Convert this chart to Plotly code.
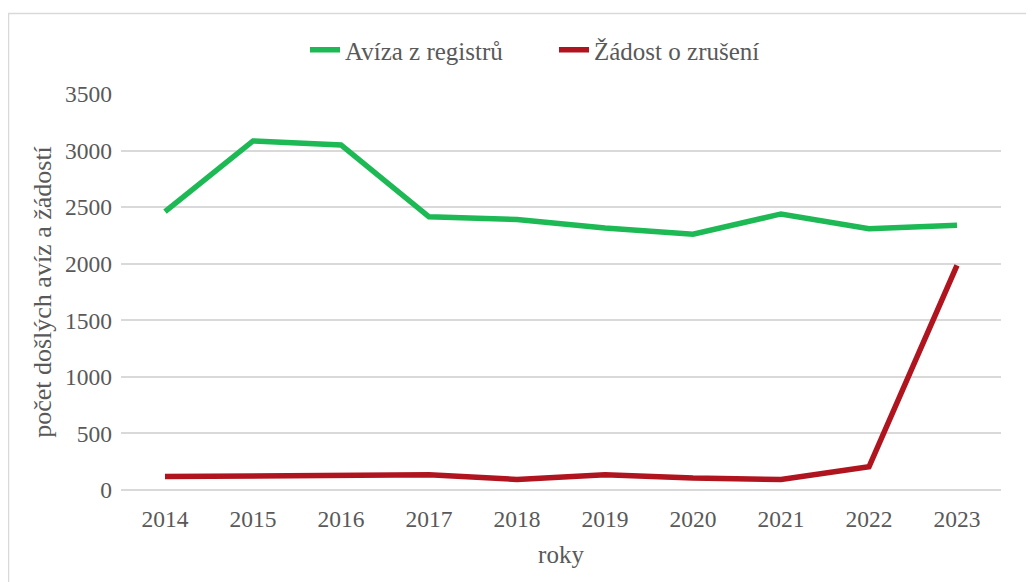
import plotly.graph_objects as go

years = ["2014", "2015", "2016", "2017", "2018", "2019", "2020", "2021", "2022", "2023"]
aviza = [2460, 3085, 3050, 2415, 2390, 2315, 2260, 2440, 2310, 2340]
zadosti = [119, 122, 128, 134, 93, 135, 105, 93, 205, 1985]
y_ticks = [0, 500, 1000, 1500, 2000, 2500, 3000, 3500]

FONT = "Liberation Serif"
TXT = "#595959"

# page has an 8px body margin; figure coords = page coords - 8
L, T, PW, PH = 113, 86, 880, 396
W, H = 1034, 582

fig = go.Figure()
fig.add_trace(go.Scatter(x=years, y=aviza, mode="lines", name="Avíza z registrů",
                         line=dict(color="#1db954", width=5.5)))
fig.add_trace(go.Scatter(x=years, y=zadosti, mode="lines", name="Žádost o zrušení",
                         line=dict(color="#b0141e", width=5.5)))

fig.update_layout(
    width=W, height=H,
    margin=dict(l=L, r=W - L - PW, t=T, b=H - T - PH, autoexpand=False),
    paper_bgcolor="white", plot_bgcolor="white",
    font=dict(family=FONT, size=23.5, color=TXT),
    showlegend=True,
    legend=dict(orientation="h", x=(310 - 8 - 5) / W, xanchor="left", xref="container",
                y=1 - 42 / H, yanchor="middle", yref="container",
                font=dict(family=FONT, size=25, color=TXT),
                entrywidth=204, entrywidthmode="pixels",
                traceorder="normal"),
    xaxis=dict(title=dict(text="roky", font=dict(size=25, color=TXT), standoff=14),
               showgrid=False, showline=False, ticks="", tickfont=dict(size=23.5),
               ticklabelstandoff=12,
               type="category", range=[-0.5, 9.5], automargin=False),
    yaxis=dict(title=dict(text="počet došlých avíz a žádostí", font=dict(size=26, color=TXT), standoff=5),
               range=[0, 3500], tickvals=y_ticks, showgrid=True, gridcolor="#d9d9d9",
               gridwidth=1.5, zeroline=True, zerolinecolor="#d9d9d9", zerolinewidth=1.5,
               showline=False, ticks="", tickfont=dict(size=23.5), ticklabelstandoff=8,
               automargin=False),
    shapes=[dict(type="rect", xref="paper", yref="paper",
                 x0=(0.5 - L) / PW, x1=(1040 - L) / PW,
                 y0=(T + PH - 600) / PH, y1=(T + PH - 5.5) / PH,
                 line=dict(color="#d9d9d9", width=1.5), fillcolor="rgba(0,0,0,0)")],
)

fig.write_html("out.html")
